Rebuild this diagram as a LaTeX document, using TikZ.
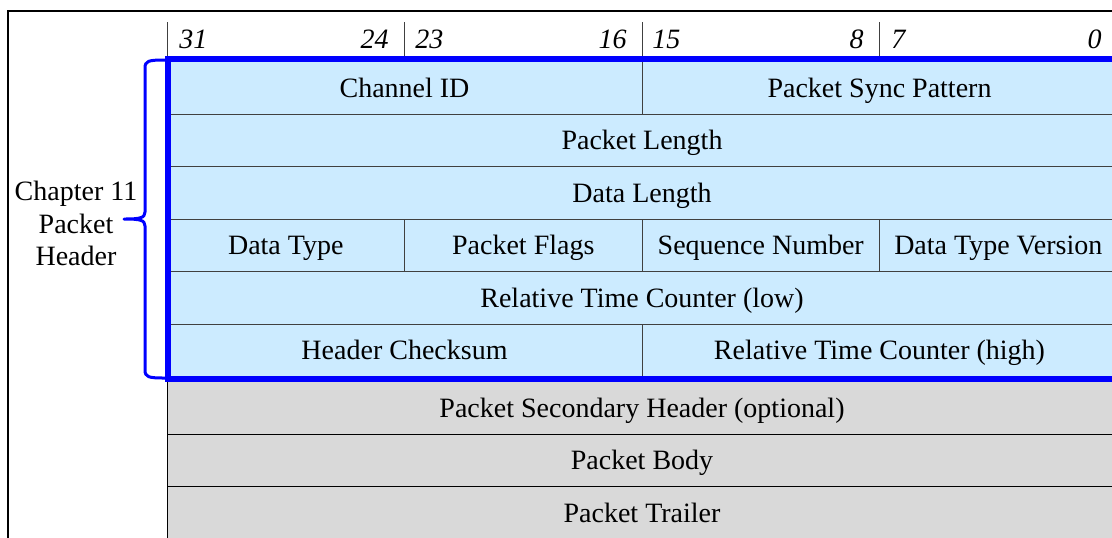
\documentclass[tikz,border=0pt]{standalone}
\usepackage{fontspec}
\setmainfont{Liberation Serif}[ItalicFont={Liberation Serif Italic}]
\definecolor{hdrblue}{HTML}{CCEBFF}
\definecolor{optgrey}{HTML}{D9D9D9}
\definecolor{frameblue}{HTML}{0000FF}
\definecolor{gridgrey}{HTML}{404040}

\begin{document}
\begin{tikzpicture}[x=0.5pt, y=-0.5pt,
  font=\rmfamily\fontsize{14}{16.25}\selectfont,
  field/.style={draw=gridgrey, line width=0.5pt, inner sep=0pt, text height=9.3pt, text depth=0pt, minimum height=26.25pt},
  hdr/.style={field, fill=hdrblue},
  opt/.style={field, fill=optgrey, draw=black},
  span1/.style={minimum width=118.75pt},
  span2/.style={minimum width=237.5pt},
  span4/.style={minimum width=475pt},
  bitnum/.style={inner sep=0pt, font=\rmfamily\fontsize{14}{16}\selectfont\itshape},
  tick/.style={draw=gridgrey, line width=0.5pt}]
\useasboundingbox (0,0) rectangle (1112,537);
\clip (0,0) rectangle (1112,537);
% outer frame
\draw[line width=1pt] (8,545) -- (8,11) -- (1120,11);
% bit ruler
\draw[tick] (167,22) -- (167,57);
\draw[tick] (404.5,22) -- (404.5,57);
\draw[tick] (642,22) -- (642,57);
\draw[tick] (879.5,22) -- (879.5,57);
\node[bitnum, anchor=base west] (b31) at (179,48) {31};
\node[bitnum, anchor=base east] (b24) at (389,48) {24};
\node[bitnum, anchor=base west] (b23) at (415,48) {23};
\node[bitnum, anchor=base east] (b16) at (627,48) {16};
\node[bitnum, anchor=base west] (b15) at (652,48) {15};
\node[bitnum, anchor=base east] (b8) at (864,48) {8};
\node[bitnum, anchor=base west] (b7) at (891,48) {7};
\node[bitnum, anchor=base east] (b0) at (1102,48) {0};
% chapter 11 header words
\node[hdr, span2] (chanid) at (404.5,87.75) {Channel ID};
\node[hdr, span2] (syncpat) at (879.5,87.75) {Packet Sync Pattern};
\node[hdr, span4] (pktlen) at (642,140.25) {Packet Length};
\node[hdr, span4] (datalen) at (642,192.75) {Data Length};
\node[hdr, span1] (dtype) at (285.75,245.25) {Data Type};
\node[hdr, span1] (pflags) at (523.25,245.25) {Packet Flags};
\node[hdr, span1] (seqnum) at (760.75,245.25) {Sequence Number};
\node[hdr, span1] (dtver) at (998.25,245.25) {Data Type Version};
\node[hdr, span4] (rtclow) at (642,297.75) {Relative Time Counter (low)};
\node[hdr, span2] (hdrsum) at (404.5,350.25) {Header Checksum};
\node[hdr, span2] (rtchigh) at (879.5,350.25) {Relative Time Counter (high)};
% rest of packet
\node[opt, span4] (sechdr) at (642,407.75) {Packet Secondary Header (optional)};
\node[opt, span4] (body) at (642,460.25) {Packet Body};
\node[opt, span4] (trailer) at (642,512.75) {Packet Trailer};
% header outline and brace
\draw[frameblue, line width=3pt] (167.5,59) rectangle (1125,379);
\draw[frameblue, line width=1.5pt, line join=round]
  (165,60) .. controls (148,60) and (145,61) .. (145,68) -- (145,212)
  .. controls (145,218) and (140,219) .. (124,219)
  .. controls (140,219) and (145,220) .. (145,226) -- (145,370)
  .. controls (145,377) and (148,378) .. (165,378);
\node[align=center] (hdrlabel) at (76,223.5) {Chapter 11\\Packet\\Header};
\end{tikzpicture}
\end{document}
